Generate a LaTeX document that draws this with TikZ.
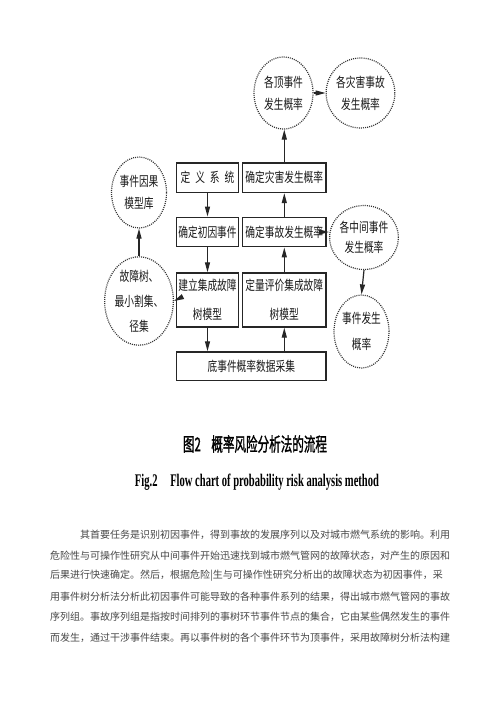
\documentclass[tikz,border=0pt]{standalone}
\usepackage{fontspec}
\setmainfont{Liberation Serif}
\newfontfamily\cjk{Noto Sans CJK SC}
\newfontfamily\cjkcap[FakeBold=1.6]{Noto Sans CJK SC}
\newfontfamily\cjkbox[FakeStretch=0.72]{Noto Sans CJK SC}
\usetikzlibrary{arrows.meta,shapes.geometric}
\begin{document}
\begin{tikzpicture}[x=1pt,y=-1pt,
  stepbox/.style={draw=black!85, line width=1.4pt, fill=white, inner sep=0pt,
    align=center, font=\cjkbox\fontsize{13.5}{29}\selectfont, text=black!90},
  cloud/.style={ellipse, draw=black!80, line width=1.2pt, dash pattern=on 1pt off 1.1pt,
    inner sep=0pt, align=center, font=\cjkbox\fontsize{13.5}{22}\selectfont, text=black!90},
  flow/.style={line width=1.2pt, draw=black!85, -{Triangle[length=10pt,width=5pt]}},
  bodyline/.style={anchor=west, inner sep=0pt, font=\cjk\fontsize{10}{12}\selectfont, text=black!72}
]
\useasboundingbox[fill=white] (0,0) rectangle (500,707);

% boxes
\node[stepbox, minimum width=61.6pt, minimum height=29.5pt] (b1) at (207.5,177.7)
  {定\hspace{5pt}义\hspace{5pt}系\hspace{5pt}统};
\node[stepbox, minimum width=83.3pt, minimum height=29.5pt] (b2) at (284.3,177.7) {确定灾害发生概率};
\node[stepbox, minimum width=61.6pt, minimum height=29.5pt] (b3) at (207.5,232) {确定初因事件};
\node[stepbox, minimum width=83.3pt, minimum height=29.5pt] (b4) at (284.3,232) {确定事故发生概率};
\node[stepbox, minimum width=61.6pt, minimum height=54pt] (b5) at (207.5,300) {建立集成故障\\树模型};
\node[stepbox, minimum width=83.3pt, minimum height=54pt] (b6) at (284.3,300) {定量评价集成故障\\树模型};
\node[stepbox, minimum width=149.3pt, minimum height=28.7pt] (b7) at (251.3,366.3) {底事件概率数据采集};

% dotted circles
\node[cloud, minimum width=59pt, minimum height=72pt] (c1) at (283.5,93) {各顶事件\\发生概率};
\node[cloud, minimum width=55pt, minimum height=70pt] (c2) at (360.5,93) {各灾害事故\\发生概率};
\node[cloud, minimum width=52pt, minimum height=71pt] (c3) at (139,192.5) {事件因果\\模型库};
\node[cloud, minimum width=48pt, minimum height=82pt, font=\cjkbox\fontsize{13.5}{25}\selectfont] (c4) at (139,301)
  {故障树、\\最小割集、\\径集};
\node[cloud, minimum width=52pt, minimum height=64pt, font=\cjkbox\fontsize{13.5}{20}\selectfont] (c5) at (364,237.5)
  {各中间事件\\发生概率};
\node[cloud, minimum width=47pt, minimum height=73pt, font=\cjkbox\fontsize{13.5}{26}\selectfont] (c6) at (361.5,331.5)
  {事件发生\\概率};

% connectors
\draw[flow] (b1.south) -- (b3.north);
\draw[flow] (b3.south) -- (b5.north);
\draw[flow] (b5.south) -- (b5.south |- b7.north);
\draw[flow] (b6.south |- b7.north) -- (b6.south);
\draw[flow] (b6.north) -- (b4.south);
\draw[flow] (b4.north) -- (b2.south);
\draw[flow] (b2.north) -- (b2.north |- c1.south);
\draw[flow] (c1.east) -- (c2.west);
\draw[flow] (b4.east) -- (b4.east -| c5.west);
\draw[flow] (c5.south) -- (c6.north);
\draw[flow] (b5.west) -- (c4.east);
\draw[flow] (c4.north) -- (c3.south);

% captions
\node[inner sep=0pt] (cap1) at (255,444)
  {\resizebox{144pt}{16pt}{\cjkcap 图2\hspace{0.9em}概率风险分析法的流程}};
\node[inner sep=0pt, anchor=base] (cap2) at (257,486.5)
  {\resizebox{244pt}{12.5pt}{\bfseries Fig.2\hspace{1.2em}Flow chart of probability risk analysis method}};

% body text
\node[bodyline] (t1) at (80,535) {其首要任务是识别初因事件，得到事故的发展序列以及对城市燃气系统的影响。利用};
\node[bodyline] (t2) at (50,555.5) {危险性与可操作性研究从中间事件开始迅速找到城市燃气管网的故障状态，对产生的原因和};
\node[bodyline] (t3) at (50,576) {后果进行快速确定。然后，根据危险|生与可操作性研究分析出的故障状态为初因事件，采};
\node[bodyline] (t4) at (50,596.5) {用事件树分析法分析此初因事件可能导致的各种事件系列的结果，得出城市燃气管网的事故};
\node[bodyline] (t5) at (50,617) {序列组。事故序列组是指按时间排列的事树环节事件节点的集合，它由某些偶然发生的事件};
\node[bodyline] (t6) at (50,637.5) {而发生，通过干涉事件结束。再以事件树的各个事件环节为顶事件，采用故障树分析法构建};
\end{tikzpicture}
\end{document}
